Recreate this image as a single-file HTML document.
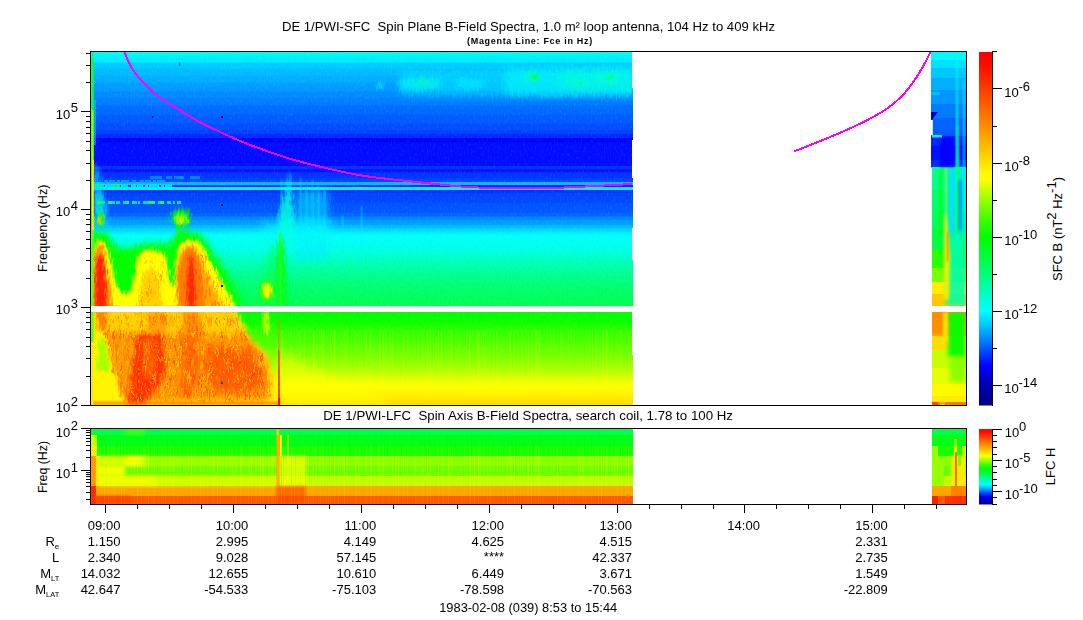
<!DOCTYPE html>
<html><head><meta charset="utf-8"><title>DE 1/PWI spectra</title>
<style>html,body{margin:0;padding:0;background:#fff}svg{display:block}text{font-family:"Liberation Sans",sans-serif;fill:#000}</style>
</head><body>
<svg width="1083" height="620" viewBox="0 0 1083 620">
<defs>
<linearGradient id="gbase" gradientUnits="userSpaceOnUse" x1="0" y1="52" x2="0" y2="405"><stop offset="0.0000" stop-color="rgb(0,252,238)"/><stop offset="0.0082" stop-color="rgb(0,252,240)"/><stop offset="0.0085" stop-color="rgb(0,242,255)"/><stop offset="0.0283" stop-color="rgb(0,236,255)"/><stop offset="0.0312" stop-color="rgb(0,207,255)"/><stop offset="0.0453" stop-color="rgb(0,200,255)"/><stop offset="0.0482" stop-color="rgb(0,190,255)"/><stop offset="0.0652" stop-color="rgb(0,186,255)"/><stop offset="0.0680" stop-color="rgb(0,178,255)"/><stop offset="0.0850" stop-color="rgb(0,172,255)"/><stop offset="0.0878" stop-color="rgb(0,160,255)"/><stop offset="0.1105" stop-color="rgb(0,152,255)"/><stop offset="0.1133" stop-color="rgb(0,140,255)"/><stop offset="0.1275" stop-color="rgb(0,138,255)"/><stop offset="0.1303" stop-color="rgb(0,130,255)"/><stop offset="0.1501" stop-color="rgb(0,122,255)"/><stop offset="0.1530" stop-color="rgb(0,110,255)"/><stop offset="0.1756" stop-color="rgb(0,104,255)"/><stop offset="0.1785" stop-color="rgb(0,95,255)"/><stop offset="0.2011" stop-color="rgb(0,90,255)"/><stop offset="0.2040" stop-color="rgb(0,80,255)"/><stop offset="0.2210" stop-color="rgb(0,76,255)"/><stop offset="0.2224" stop-color="rgb(0,65,255)"/><stop offset="0.2320" stop-color="rgb(0,62,255)"/><stop offset="0.2323" stop-color="rgb(0,45,255)"/><stop offset="0.2433" stop-color="rgb(0,42,255)"/><stop offset="0.2436" stop-color="rgb(0,0,255)"/><stop offset="0.2550" stop-color="rgb(0,4,255)"/><stop offset="0.2578" stop-color="rgb(0,14,255)"/><stop offset="0.3241" stop-color="rgb(0,12,255)"/><stop offset="0.3244" stop-color="rgb(0,52,255)"/><stop offset="0.3326" stop-color="rgb(0,52,255)"/><stop offset="0.3329" stop-color="rgb(0,16,255)"/><stop offset="0.3399" stop-color="rgb(0,18,255)"/><stop offset="0.3402" stop-color="rgb(0,45,255)"/><stop offset="0.3595" stop-color="rgb(0,58,255)"/><stop offset="0.3598" stop-color="rgb(0,70,255)"/><stop offset="0.3691" stop-color="rgb(0,72,255)"/><stop offset="0.3694" stop-color="rgb(0,186,255)"/><stop offset="0.3759" stop-color="rgb(0,186,255)"/><stop offset="0.3762" stop-color="rgb(0,38,255)"/><stop offset="0.3822" stop-color="rgb(0,38,255)"/><stop offset="0.3824" stop-color="rgb(0,240,255)"/><stop offset="0.3907" stop-color="rgb(0,240,255)"/><stop offset="0.3909" stop-color="rgb(0,50,255)"/><stop offset="0.3980" stop-color="rgb(0,52,255)"/><stop offset="0.3994" stop-color="rgb(0,68,255)"/><stop offset="0.4249" stop-color="rgb(0,72,255)"/><stop offset="0.4278" stop-color="rgb(0,80,255)"/><stop offset="0.4363" stop-color="rgb(0,84,255)"/><stop offset="0.4547" stop-color="rgb(0,88,255)"/><stop offset="0.4575" stop-color="rgb(0,100,255)"/><stop offset="0.4646" stop-color="rgb(0,104,255)"/><stop offset="0.4674" stop-color="rgb(0,130,255)"/><stop offset="0.4731" stop-color="rgb(0,134,255)"/><stop offset="0.4759" stop-color="rgb(0,150,255)"/><stop offset="0.4901" stop-color="rgb(0,166,255)"/><stop offset="0.4929" stop-color="rgb(0,190,255)"/><stop offset="0.4986" stop-color="rgb(0,194,255)"/><stop offset="0.5014" stop-color="rgb(0,215,255)"/><stop offset="0.5071" stop-color="rgb(0,218,255)"/><stop offset="0.5099" stop-color="rgb(0,236,255)"/><stop offset="0.5156" stop-color="rgb(0,240,255)"/><stop offset="0.5184" stop-color="rgb(0,255,248)"/><stop offset="0.5439" stop-color="rgb(0,255,240)"/><stop offset="0.5609" stop-color="rgb(0,255,226)"/><stop offset="0.5836" stop-color="rgb(0,255,200)"/><stop offset="0.6062" stop-color="rgb(0,255,170)"/><stop offset="0.6402" stop-color="rgb(0,255,135)"/><stop offset="0.6742" stop-color="rgb(0,255,105)"/><stop offset="0.7025" stop-color="rgb(0,255,88)"/><stop offset="0.7193" stop-color="rgb(0,255,82)"/><stop offset="0.7195" stop-color="rgb(0,255,0)"/><stop offset="0.7649" stop-color="rgb(10,255,0)"/><stop offset="0.7875" stop-color="rgb(45,255,0)"/><stop offset="0.8244" stop-color="rgb(80,255,0)"/><stop offset="0.8612" stop-color="rgb(120,255,0)"/><stop offset="0.8924" stop-color="rgb(160,255,0)"/><stop offset="0.9150" stop-color="rgb(200,255,0)"/><stop offset="0.9320" stop-color="rgb(235,255,0)"/><stop offset="0.9462" stop-color="rgb(255,255,0)"/><stop offset="0.9688" stop-color="rgb(255,245,0)"/><stop offset="0.9858" stop-color="rgb(255,228,0)"/><stop offset="1.0000" stop-color="rgb(255,215,0)"/></linearGradient>
<linearGradient id="gcb1" gradientUnits="userSpaceOnUse" x1="0" y1="52" x2="0" y2="405"><stop offset="0.0000" stop-color="rgb(255,0,0)"/><stop offset="0.0368" stop-color="rgb(255,10,0)"/><stop offset="0.1360" stop-color="rgb(255,85,0)"/><stop offset="0.2096" stop-color="rgb(255,140,0)"/><stop offset="0.2776" stop-color="rgb(255,195,0)"/><stop offset="0.3428" stop-color="rgb(255,250,0)"/><stop offset="0.3654" stop-color="rgb(245,255,0)"/><stop offset="0.4193" stop-color="rgb(150,255,0)"/><stop offset="0.4816" stop-color="rgb(50,255,0)"/><stop offset="0.5241" stop-color="rgb(0,255,0)"/><stop offset="0.5751" stop-color="rgb(0,255,50)"/><stop offset="0.6289" stop-color="rgb(0,255,120)"/><stop offset="0.6827" stop-color="rgb(0,255,190)"/><stop offset="0.7337" stop-color="rgb(0,255,255)"/><stop offset="0.7734" stop-color="rgb(0,200,255)"/><stop offset="0.8159" stop-color="rgb(0,130,255)"/><stop offset="0.8499" stop-color="rgb(0,70,255)"/><stop offset="0.8895" stop-color="rgb(0,0,255)"/><stop offset="0.9433" stop-color="rgb(0,0,175)"/><stop offset="1.0000" stop-color="rgb(0,0,130)"/></linearGradient>
<linearGradient id="gcb2" gradientUnits="userSpaceOnUse" x1="0" y1="429" x2="0" y2="504.5"><stop offset="0.0000" stop-color="rgb(255,0,0)"/><stop offset="0.0368" stop-color="rgb(255,10,0)"/><stop offset="0.1360" stop-color="rgb(255,85,0)"/><stop offset="0.2096" stop-color="rgb(255,140,0)"/><stop offset="0.2776" stop-color="rgb(255,195,0)"/><stop offset="0.3428" stop-color="rgb(255,250,0)"/><stop offset="0.3654" stop-color="rgb(245,255,0)"/><stop offset="0.4193" stop-color="rgb(150,255,0)"/><stop offset="0.4816" stop-color="rgb(50,255,0)"/><stop offset="0.5241" stop-color="rgb(0,255,0)"/><stop offset="0.5751" stop-color="rgb(0,255,50)"/><stop offset="0.6289" stop-color="rgb(0,255,120)"/><stop offset="0.6827" stop-color="rgb(0,255,190)"/><stop offset="0.7337" stop-color="rgb(0,255,255)"/><stop offset="0.7734" stop-color="rgb(0,200,255)"/><stop offset="0.8159" stop-color="rgb(0,130,255)"/><stop offset="0.8499" stop-color="rgb(0,70,255)"/><stop offset="0.8895" stop-color="rgb(0,0,255)"/><stop offset="0.9433" stop-color="rgb(0,0,175)"/><stop offset="1.0000" stop-color="rgb(0,0,130)"/></linearGradient>
<filter id="b1" x="-20%" y="-20%" width="140%" height="140%"><feGaussianBlur color-interpolation-filters="sRGB" stdDeviation="1"/></filter>
<filter id="b15" x="-20%" y="-20%" width="140%" height="140%"><feGaussianBlur color-interpolation-filters="sRGB" stdDeviation="1.5"/></filter>
<filter id="b2" x="-20%" y="-20%" width="140%" height="140%"><feGaussianBlur color-interpolation-filters="sRGB" stdDeviation="2"/></filter>
<filter id="b3" x="-20%" y="-20%" width="140%" height="140%"><feGaussianBlur color-interpolation-filters="sRGB" stdDeviation="3"/></filter>
<filter id="b4" x="-30%" y="-30%" width="160%" height="160%"><feGaussianBlur color-interpolation-filters="sRGB" stdDeviation="4"/></filter>
<filter id="b6" x="-30%" y="-30%" width="160%" height="160%"><feGaussianBlur color-interpolation-filters="sRGB" stdDeviation="6"/></filter>
<filter id="disp" color-interpolation-filters="sRGB" filterUnits="userSpaceOnUse" x="80" y="40" width="570" height="380"><feTurbulence type="fractalNoise" baseFrequency="0.5 0.16" numOctaves="1" seed="5" result="n"/><feDisplacementMap in="SourceGraphic" in2="n" scale="9" xChannelSelector="R" yChannelSelector="G"/></filter>
<filter id="dispS" color-interpolation-filters="sRGB" filterUnits="userSpaceOnUse" x="80" y="40" width="570" height="380"><feTurbulence type="fractalNoise" baseFrequency="0.45 0.3" numOctaves="1" seed="11" result="n"/><feDisplacementMap in="SourceGraphic" in2="n" scale="5" xChannelSelector="R" yChannelSelector="G"/></filter>
<filter id="spkY" color-interpolation-filters="sRGB" filterUnits="userSpaceOnUse" x="80" y="40" width="570" height="380"><feTurbulence type="fractalNoise" baseFrequency="0.75 0.07" numOctaves="1" seed="7"/><feColorMatrix type="matrix" values="0 0 0 0 1  0 0 0 0 0.82  0 0 0 0 0  3.2 0 0 0 -1.6" result="c"/><feComposite in="c" in2="SourceGraphic" operator="in"/></filter>
<filter id="spkR" color-interpolation-filters="sRGB" filterUnits="userSpaceOnUse" x="80" y="40" width="570" height="380"><feTurbulence type="fractalNoise" baseFrequency="0.75 0.07" numOctaves="1" seed="23"/><feColorMatrix type="matrix" values="0 0 0 0 1  0 0 0 0 0.25  0 0 0 0 0  3.2 0 0 0 -1.65" result="c"/><feComposite in="c" in2="SourceGraphic" operator="in"/></filter>
<filter id="vstk" color-interpolation-filters="sRGB" filterUnits="userSpaceOnUse" x="80" y="40" width="900" height="480"><feTurbulence type="fractalNoise" baseFrequency="0.7 0.004" numOctaves="1" seed="3"/><feColorMatrix type="matrix" values="0 0 0 0 1  0 0 0 0 1  0 0 0 0 0  3.5 0 0 0 -1.7" result="c"/><feComposite in="c" in2="SourceGraphic" operator="in"/></filter>
<filter id="vstkD" color-interpolation-filters="sRGB" filterUnits="userSpaceOnUse" x="80" y="40" width="900" height="480"><feTurbulence type="fractalNoise" baseFrequency="0.7 0.004" numOctaves="1" seed="9"/><feColorMatrix type="matrix" values="0 0 0 0 0  0 0 0 0 0.9  0 0 0 0 0  3.5 0 0 0 -1.7" result="c"/><feComposite in="c" in2="SourceGraphic" operator="in"/></filter>
<filter id="grain" color-interpolation-filters="sRGB" filterUnits="userSpaceOnUse" x="80" y="40" width="900" height="480"><feTurbulence type="fractalNoise" baseFrequency="0.7 0.3" numOctaves="1" seed="13"/><feColorMatrix type="matrix" values="0 0 0 0 1  0 0 0 0 1  0 0 0 0 1  2.5 0 0 0 -1.25" result="c"/><feComposite in="c" in2="SourceGraphic" operator="in"/></filter>
<clipPath id="cpU"><rect x="91" y="52" width="542" height="254"/></clipPath>
<clipPath id="cpL"><rect x="91" y="312" width="542" height="93"/></clipPath>
<clipPath id="cpR"><rect x="931" y="52" width="35" height="353"/></clipPath>
<clipPath id="cpA"><rect x="91" y="52" width="542" height="353"/></clipPath>
<clipPath id="cpP2"><rect x="91" y="429" width="542" height="75"/></clipPath>
<clipPath id="cpP2R"><rect x="932" y="429" width="34" height="75"/></clipPath>
</defs>
<rect x="0" y="0" width="1083" height="620" fill="#fff"/>
<g id="spec1">
<rect x="91" y="52" width="542" height="353" fill="url(#gbase)"/>
<g clip-path="url(#cpU)"><g filter="url(#disp)"><rect x="400" y="71" width="234" height="25" fill="rgb(0,235,255)" filter="url(#b3)" opacity="0.5"/><rect x="505" y="68" width="129" height="27" fill="rgb(0,250,245)" filter="url(#b3)" opacity="0.6"/><rect x="560" y="70" width="74" height="20" fill="rgb(0,255,215)" filter="url(#b3)" opacity="0.45"/><ellipse cx="420" cy="84" rx="22" ry="6" fill="rgb(0,255,235)" filter="url(#b2)" opacity="0.6"/><ellipse cx="425" cy="82" rx="8" ry="2.5" fill="rgb(0,255,150)" filter="url(#b15)" opacity="0.5"/><ellipse cx="470" cy="84" rx="16" ry="5" fill="rgb(0,250,255)" filter="url(#b2)" opacity="0.5"/><ellipse cx="532" cy="77" rx="9" ry="5" fill="rgb(0,255,200)" filter="url(#b2)" opacity="0.7"/><ellipse cx="534" cy="77" rx="4" ry="2.5" fill="rgb(0,255,40)" filter="url(#b1)" opacity="0.8"/><ellipse cx="578" cy="83" rx="12" ry="4" fill="rgb(0,255,210)" filter="url(#b2)" opacity="0.6"/><ellipse cx="580" cy="84" rx="3" ry="1.5" fill="rgb(0,255,60)" filter="url(#b1)" opacity="0.7"/><ellipse cx="608" cy="78" rx="14" ry="6" fill="rgb(0,255,215)" filter="url(#b2)" opacity="0.6"/><ellipse cx="610" cy="77" rx="4" ry="2" fill="rgb(0,255,80)" filter="url(#b1)" opacity="0.7"/><ellipse cx="380" cy="86" rx="4" ry="3" fill="rgb(0,235,255)" filter="url(#b1)" opacity="0.6"/><polygon points="94,165 97,165 101,185 106,205 108,228 94,228" fill="rgb(0,215,255)" filter="url(#b2)" opacity="0.75"/><rect x="96" y="196" width="6" height="30" fill="rgb(0,255,190)" filter="url(#b2)" opacity="0.6"/><polygon points="277,262 277,240 279,214 283,200 287,186 288,174 290,174 291,186 294,212 296,236 294,250 289,262 284,262" fill="rgb(0,255,225)" filter="url(#b2)" opacity="0.85"/><polygon points="275,306 276,262 278,240 281,232 284,240 286,262 288,306" fill="rgb(0,255,35)" filter="url(#b15)" opacity="0.9"/><polygon points="262,306 266,262 272,244 277,244 277,306" fill="rgb(0,255,60)" filter="url(#b3)" opacity="0.5"/><rect x="296" y="190" width="32" height="70" fill="rgb(0,235,255)" filter="url(#b4)" opacity="0.55"/><rect x="262" y="222" width="70" height="22" fill="rgb(0,255,240)" filter="url(#b4)" opacity="0.5"/><polygon points="89,308 89,238 96,232 104,231 110,238 116,247 128,249 138,245 150,243 165,244 172,242 177,235 186,231 198,233 206,241 213,253 223,268 233,285 244,308" fill="rgb(0,255,0)" filter="url(#b3)"/><polygon points="92,308 92,262 94,249 97,241 101,239 105,243 109,253 112,266 115,280 119,290 125,294 131,290 134,278 136,264 139,254 145,250 155,250 162,252 166,258 168,270 170,283 173,287 175,280 176,262 178,248 182,242 188,240 196,240 201,244 206,253 212,264 220,278 228,292 236,308" fill="rgb(255,255,0)" filter="url(#b15)"/><polygon points="93,308 93,266 95,252 98,244 102,245 105,254 107,268 110,283 113,308" fill="rgb(255,140,0)" filter="url(#b15)"/><polygon points="177,308 177,270 180,255 184,247 190,245 196,248 200,256 205,268 210,280 216,292 222,308" fill="rgb(255,165,0)" filter="url(#b2)"/><polygon points="178,308 178,272 181,258 185,250 191,248 196,252 199,262 202,280 204,308" fill="rgb(255,120,0)" filter="url(#b15)"/><polygon points="140,308 141,285 146,272 154,268 159,280 162,308" fill="rgb(255,200,0)" filter="url(#b2)" opacity="0.8"/><polygon points="95,308 95,276 97,260 100,253 103,258 105,275 107,308" fill="rgb(255,30,0)" filter="url(#b15)"/><polygon points="187,308 187,275 189,260 191,254 193,260 195,278 196,308" fill="rgb(255,30,0)" filter="url(#b15)" opacity="0.9"/><ellipse cx="100.5" cy="219" rx="3.5" ry="7" fill="rgb(0,255,0)" filter="url(#b15)"/><ellipse cx="100.5" cy="220" rx="1.8" ry="4.5" fill="rgb(255,190,0)" filter="url(#b1)"/><ellipse cx="181" cy="217" rx="9.5" ry="8" fill="rgb(0,255,0)" filter="url(#b2)"/><rect x="176" y="222" width="4" height="20" fill="rgb(0,255,0)" filter="url(#b15)"/><rect x="184" y="222" width="3" height="14" fill="rgb(0,255,0)" filter="url(#b15)" opacity="0.8"/><ellipse cx="181" cy="220" rx="5.5" ry="4.5" fill="rgb(190,255,0)" filter="url(#b15)"/><ellipse cx="267" cy="291" rx="7.5" ry="11" fill="rgb(40,255,0)" filter="url(#b2)"/><ellipse cx="267" cy="290.5" rx="4.6" ry="7.6" fill="rgb(255,240,0)" filter="url(#b15)"/><polygon points="200,308 200,250 206,256 214,270 222,284 232,308" fill="#000" filter="url(#spkR)" opacity="0.8"/><polygon points="138,308 139,262 146,254 158,254 164,262 166,308" fill="#000" filter="url(#spkR)" opacity="0.5"/></g><line x1="104" y1="181.5" x2="168" y2="181.5" stroke="rgb(0,160,255)" stroke-width="2.4" stroke-dasharray="3.6 1.2 6 2.4 2.4 1.2 8.4 2.4 4.8 3.6" opacity="0.9" shape-rendering="crispEdges"/><line x1="93" y1="185" x2="176" y2="185" stroke="rgb(0,225,255)" stroke-width="3" stroke-dasharray="6 1.2 3.6 1.2 9.6 2.4 2.4 1.2 7.2 3.6 4.8 1.2" opacity="0.95" shape-rendering="crispEdges"/><line x1="97" y1="185" x2="130" y2="185" stroke="rgb(0,255,110)" stroke-width="3" stroke-dasharray="4.8 10.8 7.2 30" opacity="0.9" shape-rendering="crispEdges"/><line x1="150" y1="177.5" x2="200" y2="177.5" stroke="rgb(0,150,255)" stroke-width="2.4" stroke-dasharray="12 3.6 6 2.4 9.6 6" opacity="0.8" shape-rendering="crispEdges"/><line x1="97" y1="202.5" x2="181" y2="202.5" stroke="rgb(0,235,200)" stroke-width="2.6" stroke-dasharray="4.8 1.2 2.4 2.4 7.2 1.2 3.6 3.6 6 2.4" opacity="0.9" shape-rendering="crispEdges"/><line x1="98" y1="202.5" x2="170" y2="202.5" stroke="rgb(40,255,40)" stroke-width="2.6" stroke-dasharray="4.8 6 3.6 14.4 2.4 20" opacity="0.9" shape-rendering="crispEdges"/><rect x="280.5" y="180" width="1.6" height="40" fill="rgb(0,235,255)" filter="url(#b1)" opacity="0.7"/><rect x="300" y="178" width="1.5" height="60" fill="rgb(0,240,255)" filter="url(#b1)" opacity="0.6"/><rect x="306" y="185" width="1.5" height="60" fill="rgb(0,240,255)" filter="url(#b1)" opacity="0.6"/><rect x="312" y="180" width="1.5" height="60" fill="rgb(0,240,255)" filter="url(#b1)" opacity="0.6"/><rect x="318" y="183" width="1.5" height="60" fill="rgb(0,240,255)" filter="url(#b1)" opacity="0.6"/><rect x="324" y="186" width="1.5" height="60" fill="rgb(0,240,255)" filter="url(#b1)" opacity="0.6"/><rect x="342" y="215" width="1.5" height="60" fill="rgb(0,240,255)" filter="url(#b1)" opacity="0.6"/><rect x="361" y="206" width="1.5" height="60" fill="rgb(0,240,255)" filter="url(#b1)" opacity="0.6"/><rect x="279.5" y="232" width="2" height="74" fill="rgb(60,255,0)" filter="url(#b1)" opacity="0.9"/><rect x="221" y="116" width="2" height="2" fill="rgb(0,0,0)"/><rect x="221" y="204" width="2" height="2" fill="rgb(0,0,0)"/><rect x="221" y="285" width="2" height="2" fill="rgb(0,0,0)"/><rect x="152" y="116" width="1.5" height="2" fill="rgb(0,0,170)"/><rect x="179" y="62" width="1.5" height="4" fill="rgb(0,120,255)"/></g><g clip-path="url(#cpL)"><g filter="url(#disp)"><polygon points="279,406 279,350 300,362 330,376 360,388 390,400 390,406" fill="rgb(255,255,0)" filter="url(#b6)" opacity="0.6"/><polygon points="91,310 236,310 250,338 266,354 273,372 278,388 279,406 91,406" fill="rgb(255,240,0)" filter="url(#b2)"/><polygon points="91,310 235,310 240,322 246,334 200,332 150,330 91,330" fill="rgb(255,210,0)" filter="url(#b2)" opacity="0.9"/><polygon points="104,331 246,333 258,348 267,360 270,380 268,401 124,402 113,372 106,348" fill="rgb(255,150,0)" filter="url(#b3)"/><polygon points="97,312 107,312 106,331 99,331" fill="rgb(255,120,0)" filter="url(#b15)" opacity="0.85"/><polygon points="148,312 166,312 166,334 148,334" fill="rgb(255,150,0)" filter="url(#b2)" opacity="0.7"/><polygon points="183,312 200,312 202,334 184,334" fill="rgb(255,130,0)" filter="url(#b2)" opacity="0.85"/><polygon points="136,334 164,334 165,372 158,386 144,405 127,405 130,386 134,360" fill="rgb(255,45,0)" filter="url(#b2)"/><polygon points="142,338 156,338 157,368 148,380 143,372" fill="rgb(255,110,0)" filter="url(#b2)" opacity="0.7"/><polygon points="183,336 198,336 200,370 192,394 180,394 182,365" fill="rgb(255,95,0)" filter="url(#b3)" opacity="0.9"/><polygon points="208,345 252,350 265,370 262,390 215,392 205,370" fill="rgb(255,90,0)" filter="url(#b3)" opacity="0.95"/><polygon points="92,406 92,345 97,334 104,334 109,350 114,372 119,390 124,406" fill="rgb(255,245,0)" filter="url(#b15)"/><polygon points="97,372 98,340 103,336 107,350 110,368 106,372" fill="rgb(160,255,0)" filter="url(#b15)" opacity="0.9"/><rect x="263" y="312" width="6" height="22" fill="rgb(200,255,0)" filter="url(#b15)" opacity="0.9"/><polygon points="94,312 236,312 246,333 104,333" fill="#000" filter="url(#spkR)" opacity="0.75"/><polygon points="104,331 246,333 258,348 267,360 270,380 268,401 124,402 113,372 106,348" fill="#000" filter="url(#spkY)"/><polygon points="104,331 246,333 258,348 267,360 270,380 268,401 124,402 113,372 106,348" fill="#000" filter="url(#spkR)"/></g><rect x="93" y="401.5" width="186" height="3.5" fill="rgb(255,120,0)" filter="url(#b1)" opacity="0.75"/><polygon points="278.2,404.5 278.4,318 279.2,318 279.8,404.5" fill="rgb(255,120,0)"/><polygon points="278.2,404.5 278.4,350 279.3,350 279.8,404.5" fill="rgb(255,40,0)"/><rect x="278" y="398" width="2.2" height="7" fill="rgb(255,0,0)"/><rect x="221" y="382" width="2" height="2" fill="rgb(0,80,255)"/><rect x="91" y="341" width="1.5" height="3" fill="rgb(0,0,200)"/></g><g clip-path="url(#cpA)"><rect x="91" y="58" width="2.8" height="114" fill="rgb(0,255,70)"/><rect x="92" y="53" width="1" height="3" fill="rgb(0,255,0)"/><rect x="94" y="100" width="2" height="45" fill="rgb(0,200,255)" opacity="0.6"/><rect x="91.5" y="110" width="2" height="60" fill="rgb(150,255,0)"/><rect x="91" y="160" width="1.2" height="70" fill="rgb(60,255,0)"/><rect x="92" y="160" width="1.8" height="70" fill="rgb(255,240,0)"/><rect x="91" y="230" width="2.6" height="112" fill="rgb(100,255,0)"/><rect x="91" y="342" width="2" height="63" fill="rgb(255,230,0)"/></g>
</g>
<rect x="91" y="52" width="542" height="353" fill="#000" filter="url(#grain)" opacity="0.10"/>
<rect x="280" y="330" width="353" height="60" fill="#000" filter="url(#vstk)" opacity="0.22"/>
<g clip-path="url(#cpR)"><rect x="931" y="52" width="35" height="8.5" fill="rgb(0,250,255)"/><rect x="931" y="60" width="35" height="8.5" fill="rgb(0,225,255)"/><rect x="931" y="68" width="35" height="10.5" fill="rgb(0,200,255)"/><rect x="931" y="78" width="35" height="12.5" fill="rgb(0,175,255)"/><rect x="931" y="90" width="35" height="14.5" fill="rgb(0,150,255)"/><rect x="931" y="104" width="35" height="14.5" fill="rgb(0,125,255)"/><rect x="931" y="118" width="35" height="12.5" fill="rgb(0,100,255)"/><rect x="931" y="130" width="35" height="6.5" fill="rgb(0,90,255)"/><rect x="931" y="136" width="35" height="10.5" fill="rgb(0,40,255)"/><rect x="931" y="146" width="35" height="14.5" fill="rgb(0,15,255)"/><rect x="931" y="160" width="35" height="7.5" fill="rgb(0,40,255)"/><rect x="931" y="167" width="35" height="23.5" fill="rgb(0,255,140)"/><rect x="931" y="190" width="35" height="20.5" fill="rgb(0,255,110)"/><rect x="931" y="210" width="35" height="20.5" fill="rgb(0,255,90)"/><rect x="931" y="230" width="35" height="20.5" fill="rgb(0,255,60)"/><rect x="931" y="250" width="35" height="18.5" fill="rgb(40,255,0)"/><rect x="931" y="268" width="35" height="14.5" fill="rgb(120,255,0)"/><rect x="931" y="282" width="35" height="12.5" fill="rgb(255,240,0)"/><rect x="931" y="294" width="35" height="12.5" fill="rgb(255,200,0)"/><rect x="931" y="306" width="35" height="6.5" fill="rgb(255,170,0)"/><rect x="931" y="312" width="35" height="10.5" fill="rgb(255,150,0)"/><rect x="931" y="322" width="35" height="14.5" fill="rgb(255,170,0)"/><rect x="931" y="336" width="35" height="14.5" fill="rgb(255,220,0)"/><rect x="931" y="350" width="35" height="18.5" fill="rgb(200,255,0)"/><rect x="931" y="368" width="35" height="16.5" fill="rgb(230,255,0)"/><rect x="931" y="384" width="35" height="12.5" fill="rgb(255,250,0)"/><rect x="931" y="396" width="35" height="6.5" fill="rgb(255,235,0)"/><rect x="931" y="402" width="35" height="3.5" fill="rgb(255,120,0)"/><rect x="946" y="168" width="20" height="68" fill="rgb(0,225,255)" filter="url(#b2)" opacity="0.85"/><rect x="946" y="236" width="20" height="70" fill="rgb(0,255,170)" filter="url(#b2)" opacity="0.9"/><rect x="948" y="312" width="18" height="45" fill="rgb(0,255,0)" filter="url(#b2)" opacity="0.95"/><rect x="950" y="357" width="16" height="25" fill="rgb(120,255,0)" filter="url(#b2)" opacity="0.8"/><rect x="940" y="137" width="14" height="30" fill="rgb(0,0,255)" filter="url(#b1)" opacity="0.9"/><polygon points="931,112 938,112 931,121" fill="rgb(0,0,190)"/><rect x="931" y="120" width="1.8" height="15" fill="rgb(255,255,255)"/><rect x="932" y="135" width="10" height="2.5" fill="rgb(0,240,255)"/><rect x="931" y="92" width="9" height="3" fill="rgb(0,190,255)"/><polygon points="956.3,52 957.5,52 959,240 955.8,240" fill="rgb(0,255,245)" filter="url(#b1)" opacity="0.95"/><polygon points="956.8,125 958,125 960,235 956,235" fill="rgb(0,255,60)" filter="url(#b1)" opacity="0.85"/><rect x="963" y="80" width="2" height="130" fill="rgb(0,240,255)" filter="url(#b1)" opacity="0.8"/><polygon points="944,215 947,215 950,260 949,300 944,300" fill="rgb(255,235,0)" filter="url(#b15)" opacity="0.9"/><rect x="946.5" y="232" width="2" height="30" fill="rgb(255,140,0)" filter="url(#b1)" opacity="0.9"/><rect x="939" y="168" width="3" height="68" fill="rgb(0,255,0)" filter="url(#b1)" opacity="0.8"/><rect x="945" y="168" width="2" height="48" fill="rgb(160,255,0)" filter="url(#b1)" opacity="0.8"/><rect x="958" y="180" width="4" height="50" fill="rgb(0,90,255)" filter="url(#b15)" opacity="0.5"/><rect x="931" y="312" width="12" height="22" fill="rgb(255,140,0)" filter="url(#b15)" opacity="0.9"/><rect x="943" y="312" width="5" height="30" fill="rgb(255,230,0)" filter="url(#b15)" opacity="0.9"/><rect x="931" y="402" width="7" height="3" fill="rgb(255,70,0)"/><rect x="940" y="402" width="5" height="3" fill="rgb(255,170,0)"/><rect x="930" y="168" width="2" height="240" fill="rgb(255,255,255)"/></g>
<rect x="632" y="52" width="1" height="36" fill="#fff"/>
<rect x="632" y="140" width="1" height="38" fill="#fff"/>
<rect x="632" y="228" width="1" height="32" fill="#fff"/>
<rect x="632" y="312" width="1" height="43" fill="#fff"/>
<rect x="91" y="306" width="876" height="6" fill="#fff"/>
<g fill="none" stroke="#ff00ff" stroke-width="2" stroke-linecap="butt" shape-rendering="crispEdges"><path d="M124.4,52.0 C125.4,54.2 128.2,61.4 130.3,65.3 C132.4,69.2 134.6,72.2 137.1,75.5 C139.6,78.8 142.5,81.7 145.6,84.8 C148.7,87.9 152.0,91.1 155.7,94.1 C159.4,97.1 163.4,99.8 167.6,102.6 C171.8,105.4 176.0,107.9 181.1,111.0 C186.2,114.1 192.3,118.1 198.0,121.2 C203.7,124.3 209.3,126.9 215.0,129.6 C220.7,132.3 226.1,134.8 231.9,137.3 C237.7,139.9 240.0,141.2 250.0,144.9 C260.0,148.6 278.4,155.3 291.8,159.3 C305.2,163.3 318.4,166.3 330.6,169.1 C342.8,171.9 350.6,173.8 365.0,176.0 C379.4,178.2 399.5,180.2 416.7,182.0 C433.9,183.8 449.8,185.9 468.4,187.0 C486.9,188.1 510.8,188.5 528.0,188.5 C545.2,188.5 554.5,187.9 571.8,187.2 C589.1,186.4 622.0,184.5 632.0,184.0"/><path d="M793.9,151.4 C798.0,149.8 810.4,145.1 818.7,141.7 C827.0,138.3 835.9,134.7 843.9,131.1 C851.9,127.5 859.7,124.0 867.0,120.2 C874.3,116.4 881.5,112.5 887.5,108.2 C893.5,103.9 898.6,99.5 903.2,94.6 C907.9,89.7 911.9,84.0 915.4,78.9 C918.9,73.9 921.7,68.8 924.2,64.3 C926.7,59.8 929.5,54.2 930.5,52.2"/></g>
<g id="spec2" shape-rendering="crispEdges"><rect x="91" y="429" width="542" height="6" fill="rgb(0,255,70)"/><rect x="932" y="429" width="34" height="6" fill="rgb(0,255,70)"/><rect x="91" y="435" width="542" height="11" fill="rgb(0,255,25)"/><rect x="932" y="435" width="34" height="11" fill="rgb(0,255,25)"/><rect x="91" y="446" width="542" height="10" fill="rgb(25,255,0)"/><rect x="932" y="446" width="34" height="10" fill="rgb(25,255,0)"/><rect x="91" y="456" width="542" height="10" fill="rgb(135,255,0)"/><rect x="932" y="456" width="34" height="10" fill="rgb(135,255,0)"/><rect x="91" y="466" width="542" height="10" fill="rgb(105,255,0)"/><rect x="932" y="466" width="34" height="10" fill="rgb(105,255,0)"/><rect x="91" y="476" width="542" height="10" fill="rgb(190,255,0)"/><rect x="932" y="476" width="34" height="10" fill="rgb(190,255,0)"/><rect x="91" y="486" width="542" height="10" fill="rgb(255,165,0)"/><rect x="932" y="486" width="34" height="10" fill="rgb(255,165,0)"/><rect x="91" y="496" width="542" height="8" fill="rgb(255,90,0)"/><rect x="932" y="496" width="34" height="8" fill="rgb(255,90,0)"/></g><g clip-path="url(#cpP2)"><rect x="97" y="456" width="50" height="10" fill="rgb(235,255,0)" filter="url(#b2)" opacity="0.75"/><rect x="125" y="456" width="18" height="10" fill="rgb(255,255,0)" filter="url(#b15)" opacity="0.8"/><rect x="97" y="466" width="28" height="10" fill="rgb(255,255,0)" filter="url(#b15)" opacity="0.9"/><rect x="97" y="476" width="60" height="10" fill="rgb(250,255,0)" filter="url(#b2)" opacity="0.85"/><rect x="150" y="476" width="130" height="10" fill="rgb(225,255,0)" filter="url(#b3)" opacity="0.5"/><rect x="140" y="456" width="140" height="10" fill="rgb(170,255,0)" filter="url(#b3)" opacity="0.5"/><rect x="125" y="429" width="20" height="6" fill="rgb(90,255,0)" filter="url(#b2)" opacity="0.7"/><rect x="91" y="435" width="6" height="11" fill="rgb(200,255,0)"/><rect x="91" y="446" width="6" height="10" fill="rgb(255,235,0)"/><rect x="91" y="456" width="6" height="30" fill="rgb(255,150,0)"/><rect x="96" y="456" width="3" height="30" fill="rgb(255,235,0)"/><rect x="91" y="486" width="5" height="18" fill="rgb(255,40,0)"/><rect x="91" y="496" width="40" height="8" fill="rgb(255,60,0)" filter="url(#b2)" opacity="0.7"/><rect x="276.5" y="429" width="2.5" height="6" fill="rgb(255,200,0)"/><rect x="276.5" y="435" width="3.5" height="51" fill="rgb(255,170,0)"/><rect x="280" y="435" width="2" height="21" fill="rgb(230,255,0)"/><rect x="287" y="435" width="2" height="21" fill="rgb(150,255,0)"/><rect x="280" y="456" width="26" height="30" fill="rgb(255,255,0)" filter="url(#b15)" opacity="0.7"/><rect x="280" y="456" width="26" height="30" fill="#000" filter="url(#vstkD)" opacity="0.5"/><rect x="276" y="486" width="30" height="18" fill="rgb(255,70,0)" filter="url(#b15)" opacity="0.6"/><rect x="91" y="456" width="542" height="30" fill="#000" filter="url(#vstk)" opacity="0.45"/><rect x="91" y="446" width="542" height="10" fill="#000" filter="url(#vstk)" opacity="0.18"/><rect x="91" y="435" width="542" height="21" fill="#000" filter="url(#vstkD)" opacity="0.25"/><rect x="91" y="486" width="542" height="18" fill="#000" filter="url(#vstk)" opacity="0.18"/></g><g clip-path="url(#cpP2R)"><rect x="932" y="446" width="6" height="10" fill="rgb(150,255,0)"/><rect x="932" y="456" width="12" height="30" fill="rgb(150,255,0)"/><rect x="932" y="496" width="6" height="8" fill="rgb(255,30,0)"/><rect x="954" y="439" width="3" height="7" fill="rgb(160,255,0)"/><rect x="954" y="446" width="3" height="10" fill="rgb(255,240,0)"/><rect x="951" y="456" width="15" height="30" fill="rgb(255,235,0)" filter="url(#b1)" opacity="0.95"/><rect x="955" y="452" width="2" height="44" fill="rgb(255,110,0)"/><rect x="962" y="446" width="4" height="10" fill="rgb(200,255,0)"/><rect x="958" y="456" width="3" height="10" fill="rgb(120,255,0)"/><rect x="951" y="486" width="15" height="10" fill="rgb(255,130,0)"/><rect x="945" y="496" width="21" height="8" fill="rgb(255,50,0)"/></g>
<g id="axes" stroke="#000" stroke-width="1" fill="none" shape-rendering="crispEdges">
<rect x="90.5" y="51.5" width="876" height="354"/>
<rect x="90.5" y="428.5" width="876" height="76"/>
<line x1="81" y1="405.5" x2="90" y2="405.5"/>
<line x1="86" y1="376.5" x2="90" y2="376.5"/>
<line x1="86" y1="358.5" x2="90" y2="358.5"/>
<line x1="86" y1="346.5" x2="90" y2="346.5"/>
<line x1="86" y1="337.5" x2="90" y2="337.5"/>
<line x1="86" y1="329.5" x2="90" y2="329.5"/>
<line x1="86" y1="322.5" x2="90" y2="322.5"/>
<line x1="86" y1="317.5" x2="90" y2="317.5"/>
<line x1="86" y1="312.5" x2="90" y2="312.5"/>
<line x1="81" y1="307.5" x2="90" y2="307.5"/>
<line x1="86" y1="278.5" x2="90" y2="278.5"/>
<line x1="86" y1="260.5" x2="90" y2="260.5"/>
<line x1="86" y1="248.5" x2="90" y2="248.5"/>
<line x1="86" y1="239.5" x2="90" y2="239.5"/>
<line x1="86" y1="231.5" x2="90" y2="231.5"/>
<line x1="86" y1="224.5" x2="90" y2="224.5"/>
<line x1="86" y1="219.5" x2="90" y2="219.5"/>
<line x1="86" y1="214.5" x2="90" y2="214.5"/>
<line x1="81" y1="209.5" x2="90" y2="209.5"/>
<line x1="86" y1="180.5" x2="90" y2="180.5"/>
<line x1="86" y1="163.5" x2="90" y2="163.5"/>
<line x1="86" y1="150.5" x2="90" y2="150.5"/>
<line x1="86" y1="141.5" x2="90" y2="141.5"/>
<line x1="86" y1="133.5" x2="90" y2="133.5"/>
<line x1="86" y1="127.5" x2="90" y2="127.5"/>
<line x1="86" y1="121.5" x2="90" y2="121.5"/>
<line x1="86" y1="116.5" x2="90" y2="116.5"/>
<line x1="81" y1="111.5" x2="90" y2="111.5"/>
<line x1="86" y1="82.5" x2="90" y2="82.5"/>
<line x1="86" y1="65.5" x2="90" y2="65.5"/>
<line x1="86" y1="53.5" x2="90" y2="53.5"/>
<line x1="86" y1="499.5" x2="90" y2="499.5"/>
<line x1="86" y1="492.5" x2="90" y2="492.5"/>
<line x1="86" y1="486.5" x2="90" y2="486.5"/>
<line x1="86" y1="482.5" x2="90" y2="482.5"/>
<line x1="86" y1="479.5" x2="90" y2="479.5"/>
<line x1="86" y1="476.5" x2="90" y2="476.5"/>
<line x1="86" y1="474.5" x2="90" y2="474.5"/>
<line x1="86" y1="472.5" x2="90" y2="472.5"/>
<line x1="81" y1="470.5" x2="90" y2="470.5"/>
<line x1="86" y1="457.5" x2="90" y2="457.5"/>
<line x1="86" y1="450.5" x2="90" y2="450.5"/>
<line x1="86" y1="445.5" x2="90" y2="445.5"/>
<line x1="86" y1="441.5" x2="90" y2="441.5"/>
<line x1="86" y1="438.5" x2="90" y2="438.5"/>
<line x1="86" y1="435.5" x2="90" y2="435.5"/>
<line x1="86" y1="432.5" x2="90" y2="432.5"/>
<line x1="86" y1="430.5" x2="90" y2="430.5"/>
<line x1="81" y1="428.5" x2="90" y2="428.5"/>
<line x1="105.5" y1="504" x2="105.5" y2="513"/>
<line x1="137.5" y1="504" x2="137.5" y2="509"/>
<line x1="169.5" y1="504" x2="169.5" y2="509"/>
<line x1="201.5" y1="504" x2="201.5" y2="509"/>
<line x1="233.5" y1="504" x2="233.5" y2="513"/>
<line x1="265.5" y1="504" x2="265.5" y2="509"/>
<line x1="297.5" y1="504" x2="297.5" y2="509"/>
<line x1="329.5" y1="504" x2="329.5" y2="509"/>
<line x1="361.5" y1="504" x2="361.5" y2="513"/>
<line x1="393.5" y1="504" x2="393.5" y2="509"/>
<line x1="425.5" y1="504" x2="425.5" y2="509"/>
<line x1="457.5" y1="504" x2="457.5" y2="509"/>
<line x1="489.5" y1="504" x2="489.5" y2="513"/>
<line x1="521.5" y1="504" x2="521.5" y2="509"/>
<line x1="553.5" y1="504" x2="553.5" y2="509"/>
<line x1="585.5" y1="504" x2="585.5" y2="509"/>
<line x1="617.5" y1="504" x2="617.5" y2="513"/>
<line x1="649.5" y1="504" x2="649.5" y2="509"/>
<line x1="681.5" y1="504" x2="681.5" y2="509"/>
<line x1="713.5" y1="504" x2="713.5" y2="509"/>
<line x1="744.5" y1="504" x2="744.5" y2="513"/>
<line x1="776.5" y1="504" x2="776.5" y2="509"/>
<line x1="808.5" y1="504" x2="808.5" y2="509"/>
<line x1="840.5" y1="504" x2="840.5" y2="509"/>
<line x1="872.5" y1="504" x2="872.5" y2="513"/>
<line x1="904.5" y1="504" x2="904.5" y2="509"/>
<line x1="936.5" y1="504" x2="936.5" y2="509"/>
<line x1="992.5" y1="52" x2="992.5" y2="406"/>
<line x1="992" y1="385.5" x2="1002" y2="385.5"/>
<line x1="992" y1="348.5" x2="997" y2="348.5"/>
<line x1="992" y1="311.5" x2="1002" y2="311.5"/>
<line x1="992" y1="274.5" x2="997" y2="274.5"/>
<line x1="992" y1="237.5" x2="1002" y2="237.5"/>
<line x1="992" y1="200.5" x2="997" y2="200.5"/>
<line x1="992" y1="163.5" x2="1002" y2="163.5"/>
<line x1="992" y1="126.5" x2="997" y2="126.5"/>
<line x1="992" y1="88.5" x2="1002" y2="88.5"/>
<line x1="992" y1="51.5" x2="997" y2="51.5"/>
<line x1="992.5" y1="429" x2="992.5" y2="505"/>
<line x1="992" y1="504.5" x2="997" y2="504.5"/>
<line x1="992" y1="497.5" x2="997" y2="497.5"/>
<line x1="992" y1="491.5" x2="1002" y2="491.5"/>
<line x1="992" y1="485.5" x2="997" y2="485.5"/>
<line x1="992" y1="479.5" x2="997" y2="479.5"/>
<line x1="992" y1="472.5" x2="997" y2="472.5"/>
<line x1="992" y1="466.5" x2="997" y2="466.5"/>
<line x1="992" y1="460.5" x2="1002" y2="460.5"/>
<line x1="992" y1="454.5" x2="997" y2="454.5"/>
<line x1="992" y1="447.5" x2="997" y2="447.5"/>
<line x1="992" y1="441.5" x2="997" y2="441.5"/>
<line x1="992" y1="435.5" x2="997" y2="435.5"/>
<line x1="992" y1="429.5" x2="1002" y2="429.5"/>
</g>
<rect x="979" y="52" width="13" height="353.5" fill="url(#gcb1)"/>
<rect x="979" y="429" width="13" height="75.5" fill="url(#gcb2)"/>
<text x="281.9" y="31.3" font-size="13" text-anchor="start" textLength="493.2" lengthAdjust="spacingAndGlyphs" xml:space="preserve">DE 1/PWI-SFC&#160; Spin Plane B-Field Spectra, 1.0 m&#178; loop antenna, 104 Hz to 409 kHz</text>
<text x="467" y="43.7" font-size="9" text-anchor="start" font-weight="bold" textLength="125.2" lengthAdjust="spacing">(Magenta Line: Fce in Hz)</text>
<text x="323.2" y="420" font-size="13" text-anchor="start" textLength="409.8" lengthAdjust="spacingAndGlyphs" xml:space="preserve">DE 1/PWI-LFC&#160; Spin Axis B-Field Spectra, search coil, 1.78 to 100 Hz</text>
<text x="439.2" y="611.7" font-size="13" text-anchor="start" textLength="178" lengthAdjust="spacingAndGlyphs">1983-02-08 (039) 8:53 to 15:44</text>
<text x="70.2" y="412.2" font-size="13" text-anchor="end">10</text>
<text x="70.7" y="406" font-size="13" text-anchor="start">2</text>
<text x="70.2" y="314.33" font-size="13" text-anchor="end">10</text>
<text x="70.7" y="308.13" font-size="13" text-anchor="start">3</text>
<text x="70.2" y="216.46" font-size="13" text-anchor="end">10</text>
<text x="70.7" y="210.26" font-size="13" text-anchor="start">4</text>
<text x="70.2" y="118.59" font-size="13" text-anchor="end">10</text>
<text x="70.7" y="112.39" font-size="13" text-anchor="start">5</text>
<text x="70.2" y="436.6" font-size="13" text-anchor="end">10</text>
<text x="70.7" y="430.4" font-size="13" text-anchor="start">2</text>
<text x="70.2" y="477.7" font-size="13" text-anchor="end">10</text>
<text x="70.7" y="471.5" font-size="13" text-anchor="start">1</text>
<text transform="translate(47.2,228.2) rotate(-90)" font-size="13" text-anchor="middle" textLength="87.4" lengthAdjust="spacingAndGlyphs">Frequency (Hz)</text>
<text transform="translate(47.2,467) rotate(-90)" font-size="13" text-anchor="middle" textLength="52" lengthAdjust="spacingAndGlyphs">Freq (Hz)</text>
<text x="1004.3" y="97" font-size="13">10</text>
<text x="1018.4" y="90.8" font-size="13">-6</text>
<text x="1004.3" y="171.1" font-size="13">10</text>
<text x="1018.4" y="164.9" font-size="13">-8</text>
<text x="1004.3" y="245.2" font-size="13">10</text>
<text x="1018.4" y="239" font-size="13">-10</text>
<text x="1004.3" y="319.3" font-size="13">10</text>
<text x="1018.4" y="313.1" font-size="13">-12</text>
<text x="1004.3" y="393.4" font-size="13">10</text>
<text x="1018.4" y="387.2" font-size="13">-14</text>
<text x="1004.8" y="436.7" font-size="13">10</text>
<text x="1018.9" y="430.5" font-size="13">0</text>
<text x="1004.8" y="468.2" font-size="13">10</text>
<text x="1018.9" y="462" font-size="13">-5</text>
<text x="1004.8" y="499.2" font-size="13">10</text>
<text x="1018.9" y="493" font-size="13">-10</text>
<text transform="translate(1062,229) rotate(-90)" font-size="13" text-anchor="middle">SFC B (nT<tspan dy="-6">2</tspan><tspan dy="6"> Hz</tspan><tspan dy="-6">-1</tspan><tspan dy="6">)</tspan></text>
<text transform="translate(1055,466.5) rotate(-90)" font-size="13" text-anchor="middle">LFC H</text>
<text x="120.4" y="530" font-size="13" text-anchor="end">09:00</text>
<text x="120.4" y="546.1" font-size="13" text-anchor="end">1.150</text>
<text x="120.4" y="561.7" font-size="13" text-anchor="end">2.340</text>
<text x="120.4" y="577.8" font-size="13" text-anchor="end">14.032</text>
<text x="120.4" y="593.5" font-size="13" text-anchor="end">42.647</text>
<text x="248.3" y="530" font-size="13" text-anchor="end">10:00</text>
<text x="248.3" y="546.1" font-size="13" text-anchor="end">2.995</text>
<text x="248.3" y="561.7" font-size="13" text-anchor="end">9.028</text>
<text x="248.3" y="577.8" font-size="13" text-anchor="end">12.655</text>
<text x="248.3" y="593.5" font-size="13" text-anchor="end">-54.533</text>
<text x="376.2" y="530" font-size="13" text-anchor="end">11:00</text>
<text x="376.2" y="546.1" font-size="13" text-anchor="end">4.149</text>
<text x="376.2" y="561.7" font-size="13" text-anchor="end">57.145</text>
<text x="376.2" y="577.8" font-size="13" text-anchor="end">10.610</text>
<text x="376.2" y="593.5" font-size="13" text-anchor="end">-75.103</text>
<text x="504.1" y="530" font-size="13" text-anchor="end">12:00</text>
<text x="504.1" y="546.1" font-size="13" text-anchor="end">4.625</text>
<text x="504.1" y="561.2" font-size="13" text-anchor="end">****</text>
<text x="504.1" y="577.8" font-size="13" text-anchor="end">6.449</text>
<text x="504.1" y="593.5" font-size="13" text-anchor="end">-78.598</text>
<text x="632" y="530" font-size="13" text-anchor="end">13:00</text>
<text x="632" y="546.1" font-size="13" text-anchor="end">4.515</text>
<text x="632" y="561.7" font-size="13" text-anchor="end">42.337</text>
<text x="632" y="577.8" font-size="13" text-anchor="end">3.671</text>
<text x="632" y="593.5" font-size="13" text-anchor="end">-70.563</text>
<text x="759.9" y="530" font-size="13" text-anchor="end">14:00</text>
<text x="887.8" y="530" font-size="13" text-anchor="end">15:00</text>
<text x="887.8" y="546.1" font-size="13" text-anchor="end">2.331</text>
<text x="887.8" y="561.7" font-size="13" text-anchor="end">2.735</text>
<text x="887.8" y="577.8" font-size="13" text-anchor="end">1.549</text>
<text x="887.8" y="593.5" font-size="13" text-anchor="end">-22.809</text>
<text x="59.3" y="546.1" font-size="13" text-anchor="end">R<tspan font-size="8" dy="3">e</tspan></text>
<text x="59.3" y="561.7" font-size="13" text-anchor="end">L</text>
<text x="59.3" y="577.8" font-size="13" text-anchor="end">M<tspan font-size="7.5" dy="3">LT</tspan></text>
<text x="59.3" y="593.5" font-size="13" text-anchor="end">M<tspan font-size="7.5" dy="3">LAT</tspan></text>
</svg></body></html>
